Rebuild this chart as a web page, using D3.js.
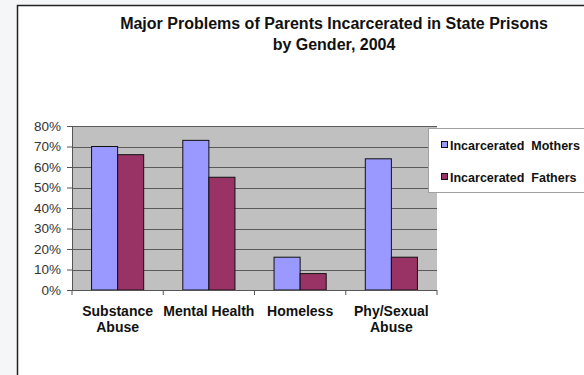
<!DOCTYPE html>
<html>
<head>
<meta charset="utf-8">
<script src="https://cdn.jsdelivr.net/npm/d3@7"></script>
<style>
  html, body { margin: 0; padding: 0; background: #f4f6f8; }
  svg { display: block; }
  text { font-family: Arial, "Liberation Sans", Helvetica, sans-serif; }
</style>
</head>
<body>
<svg id="chart" width="584" height="375"></svg>
<script>
// Problem categories and percentages for each parent group
const categories = ["Substance Abuse", "Mental Health", "Homeless", "Phy/Sexual Abuse"];
const categoryLines = [["Substance", "Abuse"], ["Mental Health"], ["Homeless"], ["Phy/Sexual", "Abuse"]];
const seriesNames = ["Incarcerated  Mothers", "Incarcerated  Fathers"];
const mothers = [0.70, 0.73, 0.16, 0.64];
const fathers = [0.66, 0.55, 0.08, 0.16];
const yTicks = [0, 0.1, 0.2, 0.3, 0.4, 0.5, 0.6, 0.7, 0.8];
const titleLines = ["Major Problems of Parents Incarcerated in State Prisons", "by Gender, 2004"];

const seriesValues = [mothers, fathers];
const colors = ["#9999ff", "#993366"];

const svg = d3.select("#chart");

// Slide frame
svg.append("rect")
  .attr("x", 17.5).attr("y", 5.5)
  .attr("width", 600).attr("height", 400)
  .attr("fill", "#ffffff")
  .attr("stroke", "#222").attr("stroke-width", 1.5);

// Title
svg.append("g").selectAll("text").data(titleLines).join("text")
  .attr("x", 334).attr("y", (d, i) => 29 + i * 21)
  .attr("text-anchor", "middle")
  .attr("font-size", 16).attr("font-weight", "bold")
  .attr("fill", "#111")
  .text(d => d);

const plot = { left: 72, right: 437, top: 126, bottom: 290 };

const y = d3.scaleLinear().domain([0, 0.8]).range([plot.bottom, plot.top]);
const x0 = d3.scaleBand().domain(categories)
  .range([plot.left, plot.right])
  .paddingInner(0.4286).paddingOuter(0.2143);
const x1 = d3.scaleBand().domain([0, 1]).range([0, x0.bandwidth()]);

// Plot area
svg.append("rect")
  .attr("x", plot.left).attr("y", plot.top)
  .attr("width", plot.right - plot.left).attr("height", plot.bottom - plot.top)
  .attr("fill", "#c0c0c0");

// Gridlines
svg.append("g").selectAll("line").data(yTicks.filter(d => d > 0)).join("line")
  .attr("x1", plot.left).attr("x2", plot.right)
  .attr("y1", d => Math.round(y(d)) + 0.5).attr("y2", d => Math.round(y(d)) + 0.5)
  .attr("stroke", "#5a5a5a").attr("stroke-width", 1);

// Bars
const groups = svg.append("g").selectAll("g").data(categories).join("g")
  .attr("transform", d => `translate(${x0(d)},0)`);
groups.selectAll("rect")
  .data((d, i) => seriesValues.map((vals, s) => ({ s, v: vals[i] })))
  .join("rect")
  .attr("x", d => x1(d.s))
  .attr("y", d => y(d.v))
  .attr("width", x1.bandwidth())
  .attr("height", d => y(0) - y(d.v))
  .attr("fill", d => colors[d.s])
  .attr("stroke", "#111").attr("stroke-width", 1);

// Y axis
const yAxis = d3.axisLeft(y).tickValues(yTicks).tickFormat(d3.format(".0%")).tickSize(5).tickPadding(6);
const yg = svg.append("g").attr("transform", `translate(${plot.left},0)`).call(yAxis);
yg.select(".domain").attr("stroke", "#555");
yg.selectAll(".tick line").attr("stroke", "#555");
yg.selectAll(".tick text")
  .attr("font-size", 13.5).attr("fill", "#333")
  .style("font-family", "Arial, 'Liberation Sans', sans-serif");

// X axis with tick marks on category boundaries
const step = x0.step();
const boundaries = d3.range(categories.length + 1).map(i => plot.left + i * step);
const xg = svg.append("g");
xg.append("line")
  .attr("x1", plot.left).attr("x2", plot.right)
  .attr("y1", plot.bottom + 0.5).attr("y2", plot.bottom + 0.5)
  .attr("stroke", "#555");
xg.selectAll("line.tk").data(boundaries).join("line").attr("class", "tk")
  .attr("x1", d => d).attr("x2", d => d)
  .attr("y1", plot.bottom).attr("y2", plot.bottom + 5)
  .attr("stroke", "#555");
xg.selectAll("text").data(categories).join("text")
  .attr("x", d => x0(d) + x0.bandwidth() / 2)
  .attr("y", 316)
  .attr("text-anchor", "middle")
  .attr("font-size", 14).attr("font-weight", "bold")
  .attr("fill", "#111")
  .each(function (d, i) {
    d3.select(this).selectAll("tspan").data(categoryLines[i]).join("tspan")
      .attr("x", x0(d) + x0.bandwidth() / 2)
      .attr("dy", (t, j) => j === 0 ? 0 : 16)
      .text(t => t);
  });

// Legend
const legend = svg.append("g");
legend.append("rect")
  .attr("x", 428.5).attr("y", 128.5).attr("width", 170).attr("height", 64)
  .attr("fill", "#ffffff").attr("stroke", "#a0a0a0").attr("stroke-width", 1);
const items = legend.selectAll("g").data(seriesNames).join("g")
  .attr("transform", (d, i) => `translate(441,${145 + i * 32})`);
items.append("rect")
  .attr("x", 0.5).attr("y", -3.5).attr("width", 6).attr("height", 6)
  .attr("fill", (d, i) => colors[i]).attr("stroke", "#111");
items.append("text")
  .attr("x", 9).attr("y", 4.5)
  .attr("font-size", 12.5).attr("font-weight", "bold")
  .attr("fill", "#111")
  .attr("xml:space", "preserve")
  .style("white-space", "pre")
  .text(d => d);
</script>
</body>
</html>
